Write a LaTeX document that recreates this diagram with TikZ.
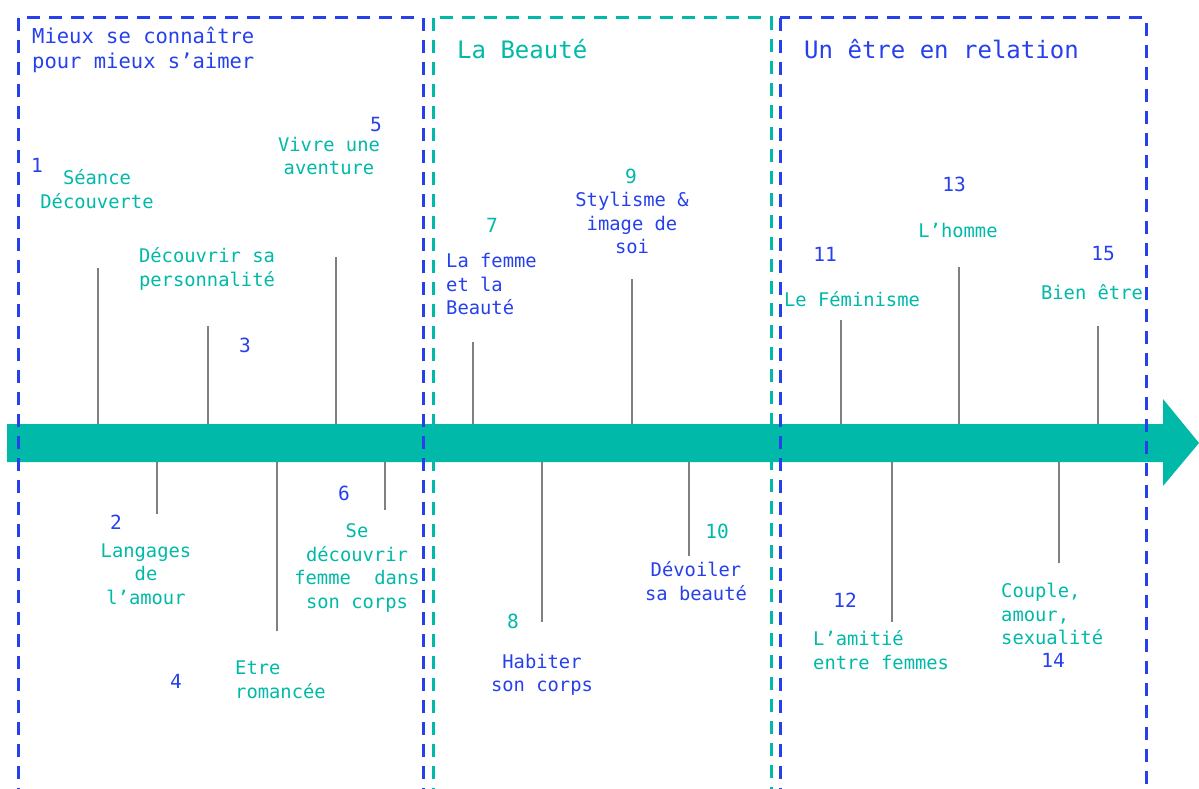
\documentclass[tikz,border=0pt]{standalone}
\usepackage{fontspec}
\newfontfamily\monofont{DejaVu Sans Mono}
\usetikzlibrary{positioning}
\definecolor{themeblue}{RGB}{38,64,235}
\definecolor{themeteal}{RGB}{0,185,168}
\definecolor{tickgray}{RGB}{128,128,128}

\begin{document}
\begin{tikzpicture}[
        x=1pt, y=-1pt,
        section/.style={draw, line width=3pt, dash pattern=on 13pt off 9pt},
        heading/.style={font=\monofont\fontsize{24}{29}\selectfont, anchor=west, inner sep=0pt},
        topic/.style={font=\monofont\fontsize{18.8}{23.5}\selectfont, align=center, inner sep=0pt},
        topicleft/.style={topic, align=left, anchor=west},
        num/.style={font=\monofont\fontsize{19.5}{23}\selectfont, inner sep=0pt},
        tick/.style={draw=tickgray, line width=1.5pt}
    ]
    \useasboundingbox (0,0) rectangle (1199,789);

    % Timeline
    \fill[themeteal] (7,424) -- (1163,424) -- (1163,399) -- (1199,443) -- (1163,486) -- (1163,462) -- (7,462) -- cycle;
    \coordinate (bartop) at (0,424);
    \coordinate (barbot) at (0,462);

    % Sections
    \draw[section, themeblue] (18,18) rectangle (423,790);
    \draw[section, themeteal] (433,18) rectangle (771,790);
    \draw[section, themeblue] (780,18) rectangle (1146,790);

    \node[heading, themeblue, font=\monofont\fontsize{20.5}{25}\selectfont, align=left] (title1) at (32,50) {Mieux se connaître\\pour mieux s’aimer};
    \node[heading, themeteal] (title2) at (457,49) {La Beauté};
    \node[heading, themeblue] (title3) at (804,49) {Un être en relation};

    % Ticks
    \coordinate (tk1) at (98,268);
    \coordinate (tk2) at (157,514);
    \coordinate (tk3) at (208,326);
    \coordinate (tk4) at (277,631);
    \coordinate (tk5) at (336,257);
    \coordinate (tk6) at (385,510);
    \coordinate (tk7) at (473,342);
    \coordinate (tk8) at (542,622);
    \coordinate (tk9) at (632,279);
    \coordinate (tk10) at (689,556);
    \coordinate (tk11) at (841,320);
    \coordinate (tk12) at (892,622);
    \coordinate (tk13) at (959,267);
    \coordinate (tk14) at (1059,563);
    \coordinate (tk15) at (1098,326);
    \draw[tick] (tk1) -- (tk1 |- bartop);
    \draw[tick] (tk3) -- (tk3 |- bartop);
    \draw[tick] (tk5) -- (tk5 |- bartop);
    \draw[tick] (tk7) -- (tk7 |- bartop);
    \draw[tick] (tk9) -- (tk9 |- bartop);
    \draw[tick] (tk11) -- (tk11 |- bartop);
    \draw[tick] (tk13) -- (tk13 |- bartop);
    \draw[tick] (tk15) -- (tk15 |- bartop);
    \draw[tick] (tk2) -- (tk2 |- barbot);
    \draw[tick] (tk4) -- (tk4 |- barbot);
    \draw[tick] (tk6) -- (tk6 |- barbot);
    \draw[tick] (tk8) -- (tk8 |- barbot);
    \draw[tick] (tk10) -- (tk10 |- barbot);
    \draw[tick] (tk12) -- (tk12 |- barbot);
    \draw[tick] (tk14) -- (tk14 |- barbot);

    % Numbers
    \node[num, themeblue] (n1) at (37,165) {1};
    \node[num, themeblue] (n2) at (116,522) {2};
    \node[num, themeblue] (n3) at (245,345) {3};
    \node[num, themeblue] (n4) at (176,681) {4};
    \node[num, themeblue] (n5) at (376,125) {5};
    \node[num, themeblue] (n6) at (344,493) {6};
    \node[num, themeteal] (n7) at (492,225) {7};
    \node[num, themeteal] (n8) at (513,621) {8};
    \node[num, themeteal] (n9) at (631,176) {9};
    \node[num, themeteal] (n10) at (717,531) {10};
    \node[num, themeblue] (n11) at (825,254) {11};
    \node[num, themeblue] (n12) at (845,600) {12};
    \node[num, themeblue] (n13) at (954,184) {13};
    \node[num, themeblue] (n14) at (1053,660) {14};
    \node[num, themeblue] (n15) at (1103,254) {15};

    % Topics
    \node[topic, themeteal] (l1) at (97,189) {Séance\\Découverte};
    \node[topic, themeteal] (l2) at (146,574) {Langages\\de\\l’amour};
    \node[topic, themeteal] (l3) at (207,269) {Découvrir sa\\personnalité};
    \node[topicleft, themeteal] (l4) at (235,680) {Etre\\romancée};
    \node[topic, themeteal] (l5) at (329,156) {Vivre une\\aventure};
    \node[topic, themeteal] (l6) at (357,568) {Se\\découvrir\\femme\hspace{1.25em}dans\\son corps};
    \node[topicleft, themeblue] (l7) at (446,284) {La femme\\et la\\Beauté};
    \node[topic, themeblue] (l8) at (542,675) {Habiter\\son corps};
    \node[topic, themeblue] (l9) at (632,223) {Stylisme \&\\image de\\soi};
    \node[topic, themeblue] (l10) at (696,581) {Dévoiler\\sa beauté};
    \node[topic, themeteal] (l11) at (852,299) {Le Féminisme};
    \node[topicleft, themeteal] (l12) at (813,650) {L’amitié\\entre femmes};
    \node[topic, themeteal] (l13) at (958,230) {L’homme};
    \node[topicleft, themeteal] (l14) at (1001,614) {Couple,\\amour,\\sexualité};
    \node[topic, themeteal] (l15) at (1092,292) {Bien être};

\end{tikzpicture}
\end{document}
